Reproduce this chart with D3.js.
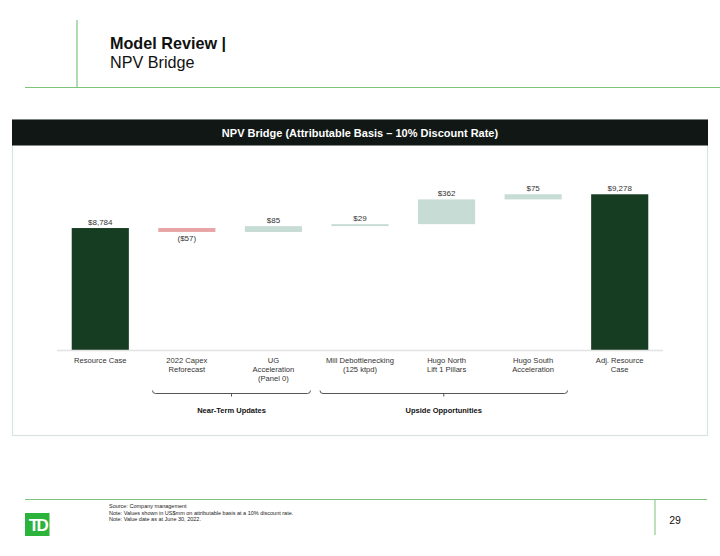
<!DOCTYPE html>
<html>
<head>
<meta charset="utf-8">
<script src="https://cdn.jsdelivr.net/npm/d3@7"></script>
<style>
  body { margin: 0; background: #fff; font-family: "Liberation Sans", Arial, sans-serif; }
  svg text { font-family: "Liberation Sans", Arial, sans-serif; }
</style>
</head>
<body>
<div id="chart"></div>
<script>
// Chart data
var categories = [
    ["Resource Case"],
    ["2022 Capex", "Reforecast"],
    ["UG", "Acceleration", "(Panel 0)"],
    ["Mill Debottlenecking", "(125 ktpd)"],
    ["Hugo North", "Lift 1 Pillars"],
    ["Hugo South", "Acceleration"],
    ["Adj. Resource", "Case"]
];
var values = [8784, -57, 85, 29, 362, 75, 9278];
var barTypes = ["total", "step", "step", "step", "step", "step", "total"];
var valueLabels = ["$8,784", "($57)", "$85", "$29", "$362", "$75", "$9,278"];
var groups = [
    { name: "Near-Term Updates", from: 1, to: 2 },
    { name: "Upside Opportunities", from: 3, to: 5 }
];
var footnotes = [
    "Source: Company management",
    "Note: Values shown in US$mm on attributable basis at a 10% discount rate.",
    "Note: Value date as at June 30, 2022."
];

var svgWidth = 720;
var svgHeight = 556;

var svg = d3.select("#chart")
    .append("svg")
    .attr("width", svgWidth)
    .attr("height", svgHeight);

// Page header
svg.append("line")
    .attr("x1", 77).attr("x2", 77).attr("y1", 20).attr("y2", 87)
    .attr("stroke", "#7dc47d").attr("stroke-width", 1.2);
svg.append("line")
    .attr("x1", 25).attr("x2", 720).attr("y1", 87.5).attr("y2", 87.5)
    .attr("stroke", "#7dc47d").attr("stroke-width", 1.2);
svg.append("text")
    .attr("x", 110).attr("y", 48.5)
    .style("font-size", "16.2px").style("font-weight", "bold").attr("fill", "#111")
    .text("Model Review |");
svg.append("text")
    .attr("x", 110).attr("y", 67.5)
    .style("font-size", "16.2px").attr("fill", "#111")
    .text("NPV Bridge");

// Chart panel
svg.append("rect")
    .attr("x", 12.5).attr("y", 120).attr("width", 695).attr("height", 315.5)
    .attr("fill", "#fff").attr("stroke", "#d8e6df").attr("stroke-width", 1.2);
svg.append("rect")
    .attr("x", 12).attr("y", 119.5).attr("width", 696).attr("height", 26)
    .attr("fill", "#111714");
svg.append("text")
    .attr("x", 360).attr("y", 136.5)
    .attr("text-anchor", "middle")
    .style("font-size", "11px").style("font-weight", "bold").attr("fill", "#fff")
    .text("NPV Bridge (Attributable Basis \u2013 10% Discount Rate)");

// Waterfall positions
var running = 0;
var bars = values.map(function (v, i) {
    var start, end;
    if (barTypes[i] === "total") {
        start = 7000;
        end = v;
        running = v;
    } else {
        start = running;
        end = running + v;
        running = end;
    }
    return { i: i, value: v, start: start, end: end, type: barTypes[i], label: valueLabels[i] };
});

// Scales
var xScale = d3.scaleBand()
    .domain(d3.range(categories.length))
    .range([57, 663])
    .paddingInner(0.34)
    .paddingOuter(0.17);

var yScale = d3.scaleLinear()
    .domain([7000, 9500])
    .range([350, 179.1]);

var colorFor = function (d) {
    if (d.type === "total") return "#163d22";
    return d.value < 0 ? "#e8a4a4" : "#c6dcd4";
};

var chartGroup = svg.append("g");

chartGroup.selectAll("rect.bar")
    .data(bars)
    .enter()
    .append("rect")
    .attr("class", "bar")
    .attr("x", function (d) { return xScale(d.i); })
    .attr("width", xScale.bandwidth())
    .attr("y", function (d) { return yScale(Math.max(d.start, d.end)); })
    .attr("height", function (d) { return Math.abs(yScale(d.start) - yScale(d.end)); })
    .attr("fill", colorFor);

// Baseline
chartGroup.append("line")
    .attr("x1", 57).attr("x2", 663)
    .attr("y1", yScale(7000) + 0.5).attr("y2", yScale(7000) + 0.5)
    .attr("stroke", "#e2e2e2").attr("stroke-width", 1.5);

// Value labels
chartGroup.selectAll("text.val")
    .data(bars)
    .enter()
    .append("text")
    .attr("class", "val")
    .attr("x", function (d) { return xScale(d.i) + xScale.bandwidth() / 2; })
    .attr("y", function (d) {
        if (d.value < 0) return yScale(Math.min(d.start, d.end)) + 9;
        return yScale(Math.max(d.start, d.end)) - 3;
    })
    .attr("text-anchor", "middle")
    .style("font-size", "8px")
    .attr("fill", "#333")
    .text(function (d) { return d.label; });

// Category labels
var catText = chartGroup.selectAll("text.cat")
    .data(categories)
    .enter()
    .append("text")
    .attr("class", "cat")
    .attr("text-anchor", "middle")
    .style("font-size", "7.6px")
    .attr("fill", "#333");

catText.selectAll("tspan")
    .data(function (lines, i) {
        return lines.map(function (l) { return { text: l, i: i }; });
    })
    .enter()
    .append("tspan")
    .attr("x", function (d) { return xScale(d.i) + xScale.bandwidth() / 2; })
    .attr("y", function (d, j) { return 363 + j * 9.2; })
    .text(function (d) { return d.text; });

// Group brackets
var bracketY = 393.5;
groups.forEach(function (g) {
    var x1 = g.from === 1 ? 152.5 : 320;
    var x2 = g.to === 2 ? 310.5 : 567.5;
    var cx = (x1 + x2) / 2;
    var path = d3.path();
    path.moveTo(x1, bracketY - 3);
    path.quadraticCurveTo(x1, bracketY, x1 + 3, bracketY);
    path.lineTo(x2 - 3, bracketY);
    path.quadraticCurveTo(x2, bracketY, x2, bracketY - 3);
    path.moveTo(cx, bracketY);
    path.lineTo(cx, bracketY + 3);
    chartGroup.append("path")
        .attr("d", path.toString())
        .attr("fill", "none")
        .attr("stroke", "#555")
        .attr("stroke-width", 1);
    chartGroup.append("text")
        .attr("x", cx).attr("y", 413)
        .attr("text-anchor", "middle")
        .style("font-size", "7.5px").style("font-weight", "bold")
        .attr("fill", "#111")
        .text(g.name);
});

// Footer
svg.append("line")
    .attr("x1", 25).attr("x2", 707).attr("y1", 499.5).attr("y2", 499.5)
    .attr("stroke", "#7dc47d").attr("stroke-width", 1.2);
svg.append("line")
    .attr("x1", 655).attr("x2", 655).attr("y1", 500).attr("y2", 535)
    .attr("stroke", "#7dc47d").attr("stroke-width", 1);
svg.append("rect")
    .attr("x", 25).attr("y", 513).attr("width", 24.5).attr("height", 23)
    .attr("fill", "#2bb33b");
svg.append("text")
    .attr("x", 37.5).attr("y", 531)
    .attr("text-anchor", "middle")
    .style("font-size", "17px").style("font-weight", "bold")
    .style("letter-spacing", "-2.5px")
    .attr("fill", "#fff")
    .text("TD");
svg.append("text")
    .attr("x", 675).attr("y", 524)
    .attr("text-anchor", "middle")
    .style("font-size", "10.5px").attr("fill", "#111")
    .text("29");
svg.selectAll("text.foot")
    .data(footnotes)
    .enter()
    .append("text")
    .attr("class", "foot")
    .attr("x", 109)
    .attr("y", function (d, i) { return 508 + i * 6.6; })
    .style("font-size", "5.5px").attr("fill", "#222")
    .text(function (d) { return d; });
</script>
</body>
</html>
